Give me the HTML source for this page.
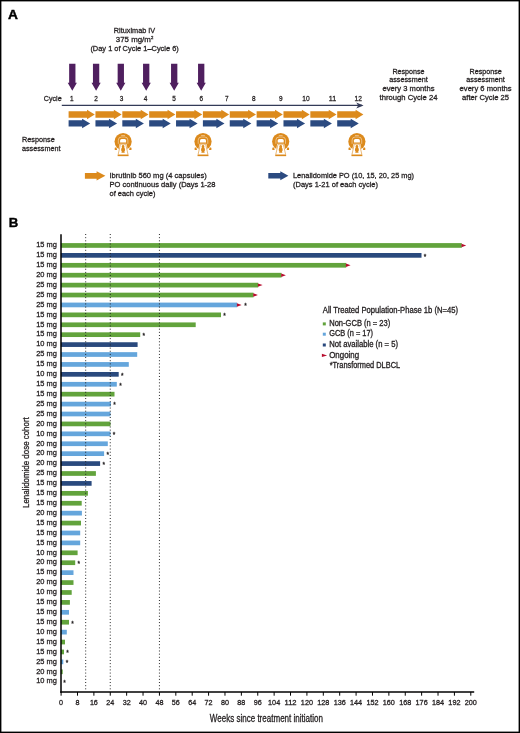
<!DOCTYPE html>
<html><head><meta charset="utf-8"><style>
html,body{margin:0;padding:0;background:#fff;}
body{width:520px;height:733px;overflow:hidden;}
svg{display:block;font-family:"Liberation Sans", sans-serif;will-change:transform;}
text{stroke:#231f20;stroke-width:0.3px;}
</style></head><body>
<svg width="520" height="733" viewBox="0 0 520 733">
<rect x="0" y="0" width="520" height="733" fill="#fff"/>
<text x="8.0" y="19.3" font-size="13.7" text-anchor="start" font-weight="bold" fill="#000" style="stroke:#000;stroke-width:0.45px">A</text>
<text x="134.5" y="33.2" font-size="8.1" text-anchor="middle" font-weight="normal" fill="#231f20" textLength="41.4" lengthAdjust="spacingAndGlyphs">Rituximab IV</text>
<text x="134.5" y="42.2" font-size="8.1" text-anchor="middle" fill="#231f20" textLength="37.5" lengthAdjust="spacingAndGlyphs">375 mg/m<tspan font-size="4.3" dy="-3.0">2</tspan></text>
<text x="134.6" y="50.8" font-size="8.1" text-anchor="middle" font-weight="normal" fill="#231f20" textLength="88.4" lengthAdjust="spacingAndGlyphs">(Day 1 of Cycle 1–Cycle 6)</text>
<path d="M69.14999999999999,63.8 H75.45 V82.7 H76.89999999999999 L72.3,90.8 L67.7,82.7 H69.14999999999999 Z" fill="#4f1f5f"/>
<path d="M92.94999999999999,63.8 H99.25 V82.7 H100.69999999999999 L96.1,90.8 L91.5,82.7 H92.94999999999999 Z" fill="#4f1f5f"/>
<path d="M117.64999999999999,63.8 H123.95 V82.7 H125.39999999999999 L120.8,90.8 L116.2,82.7 H117.64999999999999 Z" fill="#4f1f5f"/>
<path d="M143.04999999999998,63.8 H149.35 V82.7 H150.79999999999998 L146.2,90.8 L141.6,82.7 H143.04999999999998 Z" fill="#4f1f5f"/>
<path d="M171.04999999999998,63.8 H177.35 V82.7 H178.79999999999998 L174.2,90.8 L169.6,82.7 H171.04999999999998 Z" fill="#4f1f5f"/>
<path d="M198.04999999999998,63.8 H204.35 V82.7 H205.79999999999998 L201.2,90.8 L196.6,82.7 H198.04999999999998 Z" fill="#4f1f5f"/>
<text x="43.8" y="100.7" font-size="8.1" text-anchor="start" font-weight="normal" fill="#231f20" textLength="17.8" lengthAdjust="spacingAndGlyphs">Cycle</text>
<text x="71.9" y="100.7" font-size="8.1" text-anchor="middle" font-weight="normal" fill="#231f20" textLength="3.6" lengthAdjust="spacingAndGlyphs">1</text>
<text x="96" y="100.7" font-size="8.1" text-anchor="middle" font-weight="normal" fill="#231f20" textLength="3.6" lengthAdjust="spacingAndGlyphs">2</text>
<text x="121.5" y="100.7" font-size="8.1" text-anchor="middle" font-weight="normal" fill="#231f20" textLength="3.6" lengthAdjust="spacingAndGlyphs">3</text>
<text x="145.5" y="100.7" font-size="8.1" text-anchor="middle" font-weight="normal" fill="#231f20" textLength="3.6" lengthAdjust="spacingAndGlyphs">4</text>
<text x="174" y="100.7" font-size="8.1" text-anchor="middle" font-weight="normal" fill="#231f20" textLength="3.6" lengthAdjust="spacingAndGlyphs">5</text>
<text x="201.2" y="100.7" font-size="8.1" text-anchor="middle" font-weight="normal" fill="#231f20" textLength="3.6" lengthAdjust="spacingAndGlyphs">6</text>
<text x="226.9" y="100.7" font-size="8.1" text-anchor="middle" font-weight="normal" fill="#231f20" textLength="3.6" lengthAdjust="spacingAndGlyphs">7</text>
<text x="253.7" y="100.7" font-size="8.1" text-anchor="middle" font-weight="normal" fill="#231f20" textLength="3.6" lengthAdjust="spacingAndGlyphs">8</text>
<text x="280.8" y="100.7" font-size="8.1" text-anchor="middle" font-weight="normal" fill="#231f20" textLength="3.6" lengthAdjust="spacingAndGlyphs">9</text>
<text x="306" y="100.7" font-size="8.1" text-anchor="middle" font-weight="normal" fill="#231f20" textLength="7.4" lengthAdjust="spacingAndGlyphs">10</text>
<text x="332.5" y="100.7" font-size="8.1" text-anchor="middle" font-weight="normal" fill="#231f20" textLength="7.4" lengthAdjust="spacingAndGlyphs">11</text>
<text x="358.3" y="100.7" font-size="8.1" text-anchor="middle" font-weight="normal" fill="#231f20" textLength="7.4" lengthAdjust="spacingAndGlyphs">12</text>
<line x1="61.8" y1="105.4" x2="362" y2="105.4" stroke="#333b58" stroke-width="1.4"/>
<path d="M356.2,102.5 L363.6,105.4 L356.2,108.4 L358.2,105.4 Z" fill="#333b58"/>
<path d="M68.60,111.3 H87.00 V109.8 L94.80,114.5 L87.00,119.3 V117.8 H68.60 Z" fill="#dc8a1c"/>
<path d="M68.60,120.2 H82.10 V118.8 L90.20,123.4 L82.10,128.2 V126.5 H68.60 Z" fill="#2b4a80"/>
<path d="M95.46,111.3 H113.86 V109.8 L121.66,114.5 L113.86,119.3 V117.8 H95.46 Z" fill="#dc8a1c"/>
<path d="M95.46,120.2 H108.96 V118.8 L117.06,123.4 L108.96,128.2 V126.5 H95.46 Z" fill="#2b4a80"/>
<path d="M122.32,111.3 H140.72 V109.8 L148.52,114.5 L140.72,119.3 V117.8 H122.32 Z" fill="#dc8a1c"/>
<path d="M122.32,120.2 H135.82 V118.8 L143.92,123.4 L135.82,128.2 V126.5 H122.32 Z" fill="#2b4a80"/>
<path d="M149.18,111.3 H167.58 V109.8 L175.38,114.5 L167.58,119.3 V117.8 H149.18 Z" fill="#dc8a1c"/>
<path d="M149.18,120.2 H162.68 V118.8 L170.78,123.4 L162.68,128.2 V126.5 H149.18 Z" fill="#2b4a80"/>
<path d="M176.04,111.3 H194.44 V109.8 L202.24,114.5 L194.44,119.3 V117.8 H176.04 Z" fill="#dc8a1c"/>
<path d="M176.04,120.2 H189.54 V118.8 L197.64,123.4 L189.54,128.2 V126.5 H176.04 Z" fill="#2b4a80"/>
<path d="M202.90,111.3 H221.30 V109.8 L229.10,114.5 L221.30,119.3 V117.8 H202.90 Z" fill="#dc8a1c"/>
<path d="M202.90,120.2 H216.40 V118.8 L224.50,123.4 L216.40,128.2 V126.5 H202.90 Z" fill="#2b4a80"/>
<path d="M229.76,111.3 H248.16 V109.8 L255.96,114.5 L248.16,119.3 V117.8 H229.76 Z" fill="#dc8a1c"/>
<path d="M229.76,120.2 H243.26 V118.8 L251.36,123.4 L243.26,128.2 V126.5 H229.76 Z" fill="#2b4a80"/>
<path d="M256.62,111.3 H275.02 V109.8 L282.82,114.5 L275.02,119.3 V117.8 H256.62 Z" fill="#dc8a1c"/>
<path d="M256.62,120.2 H270.12 V118.8 L278.22,123.4 L270.12,128.2 V126.5 H256.62 Z" fill="#2b4a80"/>
<path d="M283.48,111.3 H301.88 V109.8 L309.68,114.5 L301.88,119.3 V117.8 H283.48 Z" fill="#dc8a1c"/>
<path d="M283.48,120.2 H296.98 V118.8 L305.08,123.4 L296.98,128.2 V126.5 H283.48 Z" fill="#2b4a80"/>
<path d="M310.34,111.3 H328.74 V109.8 L336.54,114.5 L328.74,119.3 V117.8 H310.34 Z" fill="#dc8a1c"/>
<path d="M310.34,120.2 H323.84 V118.8 L331.94,123.4 L323.84,128.2 V126.5 H310.34 Z" fill="#2b4a80"/>
<path d="M337.20,111.3 H355.60 V109.8 L363.40,114.5 L355.60,119.3 V117.8 H337.20 Z" fill="#dc8a1c"/>
<path d="M337.20,120.2 H350.70 V118.8 L358.80,123.4 L350.70,128.2 V126.5 H337.20 Z" fill="#2b4a80"/>
<text x="22" y="141.8" font-size="8.1" text-anchor="start" font-weight="normal" fill="#231f20" textLength="32.7" lengthAdjust="spacingAndGlyphs">Response</text>
<text x="22" y="150.6" font-size="8.1" text-anchor="start" font-weight="normal" fill="#231f20" textLength="38.5" lengthAdjust="spacingAndGlyphs">assessment</text>
<defs><g id="mri"><circle cx="0" cy="0" r="8.6" fill="#dc8a1c"/>
<path d="M-8.4,6.6 Q-8.4,6.0 -7.8,6.0 H-6.6 L-6.0,8.4 H-7.9 Q-8.4,8.4 -8.4,7.9 Z M8.4,6.6 Q8.4,6.0 7.8,6.0 H6.6 L6.0,8.4 H7.9 Q8.4,8.4 8.4,7.9 Z" fill="#dc8a1c"/>
<path d="M-3.4,2.1 L3.4,2.1 L5.8,13.4 L-5.8,13.4 Z" fill="#fff"/>
<path d="M-2.65,2.65 L2.65,2.65 L5.0,13.2 L-5.0,13.2 Z" fill="#fff" stroke="#dc8a1c" stroke-width="0.6"/>
<rect x="-5.45" y="13.3" width="10.9" height="1.25" fill="#dc8a1c"/>
<path d="M-4.8,2.2 V-1.5 Q-4.8,-4.6 -1.6,-4.6 H1.6 Q4.8,-4.6 4.8,-1.5 V2.2" fill="none" stroke="#fff" stroke-width="0.5" opacity="0.9"/>
<path d="M-3.0,1.0 V-1.0 Q-3.0,-2.5 -1.5,-2.5 H1.5 Q3.0,-2.5 3.0,-1.0 V1.0 Z" fill="#fff"/>
<rect x="-1.9" y="-6.4" width="3.8" height="0.5" fill="#fff" opacity="0.85"/>
<g fill="#dc8a1c"><circle cx="0" cy="4.8" r="1.3"/><path d="M-1.0,5.4 L-1.9,7.4 L-1.9,9.0 L-1.3,10.0 L-1.7,11.1 L1.7,11.1 L1.3,10.0 L1.9,9.0 L1.9,7.4 L1.0,5.4 Z"/></g></g></defs>
<use href="#mri" x="123.1" y="141.6"/>
<use href="#mri" x="203" y="141.6"/>
<use href="#mri" x="280.7" y="141.6"/>
<use href="#mri" x="356.9" y="141.6"/>
<text x="408.5" y="73.5" font-size="8.1" text-anchor="middle" font-weight="normal" fill="#231f20" textLength="32.2" lengthAdjust="spacingAndGlyphs">Response</text>
<text x="408.5" y="82.4" font-size="8.1" text-anchor="middle" font-weight="normal" fill="#231f20" textLength="38.5" lengthAdjust="spacingAndGlyphs">assessment</text>
<text x="408.5" y="91.3" font-size="8.1" text-anchor="middle" font-weight="normal" fill="#231f20" textLength="52" lengthAdjust="spacingAndGlyphs">every 3 months</text>
<text x="408.5" y="100.2" font-size="8.1" text-anchor="middle" font-weight="normal" fill="#231f20" textLength="58" lengthAdjust="spacingAndGlyphs">through Cycle 24</text>
<text x="485.6" y="73.5" font-size="8.1" text-anchor="middle" font-weight="normal" fill="#231f20" textLength="32.2" lengthAdjust="spacingAndGlyphs">Response</text>
<text x="485.6" y="82.4" font-size="8.1" text-anchor="middle" font-weight="normal" fill="#231f20" textLength="38.5" lengthAdjust="spacingAndGlyphs">assessment</text>
<text x="485.6" y="91.3" font-size="8.1" text-anchor="middle" font-weight="normal" fill="#231f20" textLength="52" lengthAdjust="spacingAndGlyphs">every 6 months</text>
<text x="485.6" y="100.2" font-size="8.1" text-anchor="middle" font-weight="normal" fill="#231f20" textLength="47" lengthAdjust="spacingAndGlyphs">after Cycle 25</text>
<path d="M84.9,173 H96.6 V171.2 L105.4,175.8 L96.6,180.4 V178.8 H84.9 Z" fill="#dc8a1c"/>
<text x="109.5" y="177.6" font-size="8.1" text-anchor="start" font-weight="normal" fill="#231f20" textLength="97.3" lengthAdjust="spacingAndGlyphs">Ibrutinib 560 mg (4 capsules)</text>
<text x="109.5" y="186.7" font-size="8.1" text-anchor="start" font-weight="normal" fill="#231f20" textLength="106" lengthAdjust="spacingAndGlyphs">PO continuous daily (Days 1-28</text>
<text x="109.5" y="195.6" font-size="8.1" text-anchor="start" font-weight="normal" fill="#231f20" textLength="46" lengthAdjust="spacingAndGlyphs">of each cycle)</text>
<path d="M268.3,172.9 H280.3 V171.3 L288.4,175.7 L280.3,180.2 V178.5 H268.3 Z" fill="#2b4a80"/>
<text x="293" y="178" font-size="8.1" text-anchor="start" font-weight="normal" fill="#231f20" textLength="121" lengthAdjust="spacingAndGlyphs">Lenalidomide PO (10, 15, 20, 25 mg)</text>
<text x="293" y="187" font-size="8.1" text-anchor="start" font-weight="normal" fill="#231f20" textLength="85" lengthAdjust="spacingAndGlyphs">(Days 1-21 of each cycle)</text>
<text x="8.7" y="227.2" font-size="13.2" text-anchor="start" font-weight="bold" fill="#000" style="stroke:#000;stroke-width:0.4px">B</text>
<rect x="60.8" y="243.10" width="401.00" height="4.7" fill="#62a33c"/>
<path d="M461.50,243.75 L466.20,245.45 L461.50,247.15 Z" fill="#b80c2e"/>
<text x="56.9" y="247.2" font-size="8.0" text-anchor="end" font-weight="normal" fill="#231f20" textLength="20.7" lengthAdjust="spacingAndGlyphs">15 mg</text>
<rect x="60.8" y="253.01" width="360.70" height="4.7" fill="#29497d"/>
<text x="425.10" y="258.76" font-size="6.5" text-anchor="middle" fill="#231f20">*</text>
<text x="56.9" y="257.12" font-size="8.0" text-anchor="end" font-weight="normal" fill="#231f20" textLength="20.7" lengthAdjust="spacingAndGlyphs">15 mg</text>
<rect x="60.8" y="262.93" width="285.40" height="4.7" fill="#62a33c"/>
<path d="M345.90,263.58 L350.60,265.28 L345.90,266.98 Z" fill="#b80c2e"/>
<text x="56.9" y="267.03" font-size="8.0" text-anchor="end" font-weight="normal" fill="#231f20" textLength="20.7" lengthAdjust="spacingAndGlyphs">15 mg</text>
<rect x="60.8" y="272.84" width="220.70" height="4.7" fill="#62a33c"/>
<path d="M281.20,273.50 L285.90,275.19 L281.20,276.89 Z" fill="#b80c2e"/>
<text x="56.9" y="276.94" font-size="8.0" text-anchor="end" font-weight="normal" fill="#231f20" textLength="20.7" lengthAdjust="spacingAndGlyphs">20 mg</text>
<rect x="60.8" y="282.76" width="197.40" height="4.7" fill="#62a33c"/>
<path d="M257.90,283.41 L262.60,285.11 L257.90,286.81 Z" fill="#b80c2e"/>
<text x="56.9" y="286.86" font-size="8.0" text-anchor="end" font-weight="normal" fill="#231f20" textLength="20.7" lengthAdjust="spacingAndGlyphs">25 mg</text>
<rect x="60.8" y="292.67" width="192.70" height="4.7" fill="#62a33c"/>
<path d="M253.20,293.32 L257.90,295.02 L253.20,296.72 Z" fill="#b80c2e"/>
<text x="56.9" y="296.77" font-size="8.0" text-anchor="end" font-weight="normal" fill="#231f20" textLength="20.7" lengthAdjust="spacingAndGlyphs">25 mg</text>
<rect x="60.8" y="302.59" width="176.40" height="4.7" fill="#65a6dc"/>
<path d="M236.90,303.24 L241.60,304.94 L236.90,306.64 Z" fill="#b80c2e"/>
<text x="245.40" y="308.34" font-size="6.5" text-anchor="middle" fill="#231f20">*</text>
<text x="56.9" y="306.69" font-size="8.0" text-anchor="end" font-weight="normal" fill="#231f20" textLength="20.7" lengthAdjust="spacingAndGlyphs">25 mg</text>
<rect x="60.8" y="312.50" width="160.20" height="4.7" fill="#62a33c"/>
<text x="224.60" y="318.25" font-size="6.5" text-anchor="middle" fill="#231f20">*</text>
<text x="56.9" y="316.61" font-size="8.0" text-anchor="end" font-weight="normal" fill="#231f20" textLength="20.7" lengthAdjust="spacingAndGlyphs">15 mg</text>
<rect x="60.8" y="322.42" width="134.90" height="4.7" fill="#62a33c"/>
<text x="56.9" y="326.52" font-size="8.0" text-anchor="end" font-weight="normal" fill="#231f20" textLength="20.7" lengthAdjust="spacingAndGlyphs">15 mg</text>
<rect x="60.8" y="332.33" width="79.40" height="4.7" fill="#62a33c"/>
<text x="143.80" y="338.08" font-size="6.5" text-anchor="middle" fill="#231f20">*</text>
<text x="56.9" y="336.43" font-size="8.0" text-anchor="end" font-weight="normal" fill="#231f20" textLength="20.7" lengthAdjust="spacingAndGlyphs">15 mg</text>
<rect x="60.8" y="342.25" width="76.80" height="4.7" fill="#29497d"/>
<text x="56.9" y="346.35" font-size="8.0" text-anchor="end" font-weight="normal" fill="#231f20" textLength="20.7" lengthAdjust="spacingAndGlyphs">10 mg</text>
<rect x="60.8" y="352.16" width="76.40" height="4.7" fill="#65a6dc"/>
<text x="56.9" y="356.26" font-size="8.0" text-anchor="end" font-weight="normal" fill="#231f20" textLength="20.7" lengthAdjust="spacingAndGlyphs">25 mg</text>
<rect x="60.8" y="362.08" width="68.00" height="4.7" fill="#65a6dc"/>
<text x="56.9" y="366.18" font-size="8.0" text-anchor="end" font-weight="normal" fill="#231f20" textLength="20.7" lengthAdjust="spacingAndGlyphs">15 mg</text>
<rect x="60.8" y="371.99" width="57.90" height="4.7" fill="#29497d"/>
<text x="122.30" y="377.74" font-size="6.5" text-anchor="middle" fill="#231f20">*</text>
<text x="56.9" y="376.09" font-size="8.0" text-anchor="end" font-weight="normal" fill="#231f20" textLength="20.7" lengthAdjust="spacingAndGlyphs">10 mg</text>
<rect x="60.8" y="381.91" width="56.00" height="4.7" fill="#65a6dc"/>
<text x="120.40" y="387.66" font-size="6.5" text-anchor="middle" fill="#231f20">*</text>
<text x="56.9" y="386.01" font-size="8.0" text-anchor="end" font-weight="normal" fill="#231f20" textLength="20.7" lengthAdjust="spacingAndGlyphs">15 mg</text>
<rect x="60.8" y="391.82" width="53.70" height="4.7" fill="#62a33c"/>
<text x="56.9" y="395.92" font-size="8.0" text-anchor="end" font-weight="normal" fill="#231f20" textLength="20.7" lengthAdjust="spacingAndGlyphs">15 mg</text>
<rect x="60.8" y="401.74" width="50.10" height="4.7" fill="#65a6dc"/>
<text x="114.50" y="407.49" font-size="6.5" text-anchor="middle" fill="#231f20">*</text>
<text x="56.9" y="405.84" font-size="8.0" text-anchor="end" font-weight="normal" fill="#231f20" textLength="20.7" lengthAdjust="spacingAndGlyphs">25 mg</text>
<rect x="60.8" y="411.65" width="49.70" height="4.7" fill="#65a6dc"/>
<text x="56.9" y="415.75" font-size="8.0" text-anchor="end" font-weight="normal" fill="#231f20" textLength="20.7" lengthAdjust="spacingAndGlyphs">25 mg</text>
<rect x="60.8" y="421.57" width="49.70" height="4.7" fill="#62a33c"/>
<text x="56.9" y="425.67" font-size="8.0" text-anchor="end" font-weight="normal" fill="#231f20" textLength="20.7" lengthAdjust="spacingAndGlyphs">20 mg</text>
<rect x="60.8" y="431.48" width="49.70" height="4.7" fill="#65a6dc"/>
<text x="114.10" y="437.23" font-size="6.5" text-anchor="middle" fill="#231f20">*</text>
<text x="56.9" y="435.58" font-size="8.0" text-anchor="end" font-weight="normal" fill="#231f20" textLength="20.7" lengthAdjust="spacingAndGlyphs">10 mg</text>
<rect x="60.8" y="441.40" width="47.00" height="4.7" fill="#65a6dc"/>
<text x="56.9" y="445.5" font-size="8.0" text-anchor="end" font-weight="normal" fill="#231f20" textLength="20.7" lengthAdjust="spacingAndGlyphs">20 mg</text>
<rect x="60.8" y="451.31" width="43.30" height="4.7" fill="#65a6dc"/>
<text x="107.70" y="457.06" font-size="6.5" text-anchor="middle" fill="#231f20">*</text>
<text x="56.9" y="455.41" font-size="8.0" text-anchor="end" font-weight="normal" fill="#231f20" textLength="20.7" lengthAdjust="spacingAndGlyphs">20 mg</text>
<rect x="60.8" y="461.23" width="39.30" height="4.7" fill="#29497d"/>
<text x="103.70" y="466.98" font-size="6.5" text-anchor="middle" fill="#231f20">*</text>
<text x="56.9" y="465.33" font-size="8.0" text-anchor="end" font-weight="normal" fill="#231f20" textLength="20.7" lengthAdjust="spacingAndGlyphs">20 mg</text>
<rect x="60.8" y="471.14" width="35.10" height="4.7" fill="#62a33c"/>
<text x="56.9" y="475.25" font-size="8.0" text-anchor="end" font-weight="normal" fill="#231f20" textLength="20.7" lengthAdjust="spacingAndGlyphs">25 mg</text>
<rect x="60.8" y="481.06" width="30.80" height="4.7" fill="#29497d"/>
<text x="56.9" y="485.16" font-size="8.0" text-anchor="end" font-weight="normal" fill="#231f20" textLength="20.7" lengthAdjust="spacingAndGlyphs">15 mg</text>
<rect x="60.8" y="490.97" width="27.10" height="4.7" fill="#62a33c"/>
<text x="56.9" y="495.07" font-size="8.0" text-anchor="end" font-weight="normal" fill="#231f20" textLength="20.7" lengthAdjust="spacingAndGlyphs">15 mg</text>
<rect x="60.8" y="500.89" width="20.90" height="4.7" fill="#62a33c"/>
<text x="56.9" y="504.99" font-size="8.0" text-anchor="end" font-weight="normal" fill="#231f20" textLength="20.7" lengthAdjust="spacingAndGlyphs">15 mg</text>
<rect x="60.8" y="510.80" width="21.10" height="4.7" fill="#65a6dc"/>
<text x="56.9" y="514.9" font-size="8.0" text-anchor="end" font-weight="normal" fill="#231f20" textLength="20.7" lengthAdjust="spacingAndGlyphs">20 mg</text>
<rect x="60.8" y="520.72" width="20.20" height="4.7" fill="#62a33c"/>
<text x="56.9" y="524.82" font-size="8.0" text-anchor="end" font-weight="normal" fill="#231f20" textLength="20.7" lengthAdjust="spacingAndGlyphs">15 mg</text>
<rect x="60.8" y="530.63" width="19.40" height="4.7" fill="#65a6dc"/>
<text x="56.9" y="534.73" font-size="8.0" text-anchor="end" font-weight="normal" fill="#231f20" textLength="20.7" lengthAdjust="spacingAndGlyphs">15 mg</text>
<rect x="60.8" y="540.55" width="19.40" height="4.7" fill="#65a6dc"/>
<text x="56.9" y="544.65" font-size="8.0" text-anchor="end" font-weight="normal" fill="#231f20" textLength="20.7" lengthAdjust="spacingAndGlyphs">15 mg</text>
<rect x="60.8" y="550.46" width="16.80" height="4.7" fill="#62a33c"/>
<text x="56.9" y="554.56" font-size="8.0" text-anchor="end" font-weight="normal" fill="#231f20" textLength="20.7" lengthAdjust="spacingAndGlyphs">10 mg</text>
<rect x="60.8" y="560.38" width="14.40" height="4.7" fill="#62a33c"/>
<text x="78.80" y="566.13" font-size="6.5" text-anchor="middle" fill="#231f20">*</text>
<text x="56.9" y="564.48" font-size="8.0" text-anchor="end" font-weight="normal" fill="#231f20" textLength="20.7" lengthAdjust="spacingAndGlyphs">20 mg</text>
<rect x="60.8" y="570.29" width="12.70" height="4.7" fill="#65a6dc"/>
<text x="56.9" y="574.39" font-size="8.0" text-anchor="end" font-weight="normal" fill="#231f20" textLength="20.7" lengthAdjust="spacingAndGlyphs">15 mg</text>
<rect x="60.8" y="580.21" width="12.70" height="4.7" fill="#62a33c"/>
<text x="56.9" y="584.31" font-size="8.0" text-anchor="end" font-weight="normal" fill="#231f20" textLength="20.7" lengthAdjust="spacingAndGlyphs">20 mg</text>
<rect x="60.8" y="590.12" width="10.90" height="4.7" fill="#62a33c"/>
<text x="56.9" y="594.22" font-size="8.0" text-anchor="end" font-weight="normal" fill="#231f20" textLength="20.7" lengthAdjust="spacingAndGlyphs">10 mg</text>
<rect x="60.8" y="600.04" width="9.10" height="4.7" fill="#62a33c"/>
<text x="56.9" y="604.14" font-size="8.0" text-anchor="end" font-weight="normal" fill="#231f20" textLength="20.7" lengthAdjust="spacingAndGlyphs">15 mg</text>
<rect x="60.8" y="609.95" width="8.20" height="4.7" fill="#65a6dc"/>
<text x="56.9" y="614.05" font-size="8.0" text-anchor="end" font-weight="normal" fill="#231f20" textLength="20.7" lengthAdjust="spacingAndGlyphs">15 mg</text>
<rect x="60.8" y="619.87" width="8.20" height="4.7" fill="#62a33c"/>
<text x="72.60" y="625.62" font-size="6.5" text-anchor="middle" fill="#231f20">*</text>
<text x="56.9" y="623.97" font-size="8.0" text-anchor="end" font-weight="normal" fill="#231f20" textLength="20.7" lengthAdjust="spacingAndGlyphs">15 mg</text>
<rect x="60.8" y="629.78" width="6.00" height="4.7" fill="#65a6dc"/>
<text x="56.9" y="633.88" font-size="8.0" text-anchor="end" font-weight="normal" fill="#231f20" textLength="20.7" lengthAdjust="spacingAndGlyphs">10 mg</text>
<rect x="60.8" y="639.70" width="4.20" height="4.7" fill="#62a33c"/>
<text x="56.9" y="643.8" font-size="8.0" text-anchor="end" font-weight="normal" fill="#231f20" textLength="20.7" lengthAdjust="spacingAndGlyphs">15 mg</text>
<rect x="60.8" y="649.61" width="3.20" height="4.7" fill="#62a33c"/>
<text x="67.60" y="655.36" font-size="6.5" text-anchor="middle" fill="#231f20">*</text>
<text x="56.9" y="653.71" font-size="8.0" text-anchor="end" font-weight="normal" fill="#231f20" textLength="20.7" lengthAdjust="spacingAndGlyphs">15 mg</text>
<rect x="60.8" y="659.53" width="2.50" height="4.7" fill="#65a6dc"/>
<text x="66.90" y="665.28" font-size="6.5" text-anchor="middle" fill="#231f20">*</text>
<text x="56.9" y="663.63" font-size="8.0" text-anchor="end" font-weight="normal" fill="#231f20" textLength="20.7" lengthAdjust="spacingAndGlyphs">25 mg</text>
<rect x="60.8" y="669.44" width="1.90" height="4.7" fill="#62a33c"/>
<text x="56.9" y="673.54" font-size="8.0" text-anchor="end" font-weight="normal" fill="#231f20" textLength="20.7" lengthAdjust="spacingAndGlyphs">20 mg</text>
<text x="64.60" y="685.11" font-size="6.5" text-anchor="middle" fill="#231f20">*</text>
<text x="56.9" y="683.46" font-size="8.0" text-anchor="end" font-weight="normal" fill="#231f20" textLength="20.7" lengthAdjust="spacingAndGlyphs">10 mg</text>
<line x1="85.68" y1="234.05" x2="85.68" y2="690.6" stroke="#1e1e1e" stroke-width="1.0" stroke-dasharray="0.95 2.205"/>
<line x1="110.26" y1="234.05" x2="110.26" y2="690.6" stroke="#1e1e1e" stroke-width="1.0" stroke-dasharray="0.95 2.205"/>
<line x1="159.43" y1="234.05" x2="159.43" y2="690.6" stroke="#1e1e1e" stroke-width="1.0" stroke-dasharray="0.95 2.205"/>
<line x1="61.0" y1="234.2" x2="61.0" y2="692.8" stroke="#000" stroke-width="1.5"/>
<line x1="60.25" y1="692.05" x2="474.2" y2="692.05" stroke="#000" stroke-width="1.6"/>
<line x1="61.10" y1="692" x2="61.10" y2="695.7" stroke="#000" stroke-width="1.0"/>
<text x="61.1" y="705.1" font-size="7.6" text-anchor="middle" font-weight="normal" fill="#231f20" textLength="4.0" lengthAdjust="spacingAndGlyphs">0</text>
<line x1="77.49" y1="692" x2="77.49" y2="695.7" stroke="#000" stroke-width="1.0"/>
<text x="77.49" y="705.1" font-size="7.6" text-anchor="middle" font-weight="normal" fill="#231f20" textLength="4.0" lengthAdjust="spacingAndGlyphs">8</text>
<line x1="93.88" y1="692" x2="93.88" y2="695.7" stroke="#000" stroke-width="1.0"/>
<text x="93.88" y="705.1" font-size="7.6" text-anchor="middle" font-weight="normal" fill="#231f20" textLength="8.0" lengthAdjust="spacingAndGlyphs">16</text>
<line x1="110.26" y1="692" x2="110.26" y2="695.7" stroke="#000" stroke-width="1.0"/>
<text x="110.26" y="705.1" font-size="7.6" text-anchor="middle" font-weight="normal" fill="#231f20" textLength="8.0" lengthAdjust="spacingAndGlyphs">24</text>
<line x1="126.65" y1="692" x2="126.65" y2="695.7" stroke="#000" stroke-width="1.0"/>
<text x="126.65" y="705.1" font-size="7.6" text-anchor="middle" font-weight="normal" fill="#231f20" textLength="8.0" lengthAdjust="spacingAndGlyphs">32</text>
<line x1="143.04" y1="692" x2="143.04" y2="695.7" stroke="#000" stroke-width="1.0"/>
<text x="143.04" y="705.1" font-size="7.6" text-anchor="middle" font-weight="normal" fill="#231f20" textLength="8.0" lengthAdjust="spacingAndGlyphs">40</text>
<line x1="159.43" y1="692" x2="159.43" y2="695.7" stroke="#000" stroke-width="1.0"/>
<text x="159.43" y="705.1" font-size="7.6" text-anchor="middle" font-weight="normal" fill="#231f20" textLength="8.0" lengthAdjust="spacingAndGlyphs">48</text>
<line x1="175.82" y1="692" x2="175.82" y2="695.7" stroke="#000" stroke-width="1.0"/>
<text x="175.82" y="705.1" font-size="7.6" text-anchor="middle" font-weight="normal" fill="#231f20" textLength="8.0" lengthAdjust="spacingAndGlyphs">56</text>
<line x1="192.20" y1="692" x2="192.20" y2="695.7" stroke="#000" stroke-width="1.0"/>
<text x="192.2" y="705.1" font-size="7.6" text-anchor="middle" font-weight="normal" fill="#231f20" textLength="8.0" lengthAdjust="spacingAndGlyphs">64</text>
<line x1="208.59" y1="692" x2="208.59" y2="695.7" stroke="#000" stroke-width="1.0"/>
<text x="208.59" y="705.1" font-size="7.6" text-anchor="middle" font-weight="normal" fill="#231f20" textLength="8.0" lengthAdjust="spacingAndGlyphs">72</text>
<line x1="224.98" y1="692" x2="224.98" y2="695.7" stroke="#000" stroke-width="1.0"/>
<text x="224.98" y="705.1" font-size="7.6" text-anchor="middle" font-weight="normal" fill="#231f20" textLength="8.0" lengthAdjust="spacingAndGlyphs">80</text>
<line x1="241.37" y1="692" x2="241.37" y2="695.7" stroke="#000" stroke-width="1.0"/>
<text x="241.37" y="705.1" font-size="7.6" text-anchor="middle" font-weight="normal" fill="#231f20" textLength="8.0" lengthAdjust="spacingAndGlyphs">88</text>
<line x1="257.76" y1="692" x2="257.76" y2="695.7" stroke="#000" stroke-width="1.0"/>
<text x="257.76" y="705.1" font-size="7.6" text-anchor="middle" font-weight="normal" fill="#231f20" textLength="8.0" lengthAdjust="spacingAndGlyphs">96</text>
<line x1="274.14" y1="692" x2="274.14" y2="695.7" stroke="#000" stroke-width="1.0"/>
<text x="274.14" y="705.1" font-size="7.6" text-anchor="middle" font-weight="normal" fill="#231f20" textLength="12.1" lengthAdjust="spacingAndGlyphs">104</text>
<line x1="290.53" y1="692" x2="290.53" y2="695.7" stroke="#000" stroke-width="1.0"/>
<text x="290.53" y="705.1" font-size="7.6" text-anchor="middle" font-weight="normal" fill="#231f20" textLength="12.1" lengthAdjust="spacingAndGlyphs">112</text>
<line x1="306.92" y1="692" x2="306.92" y2="695.7" stroke="#000" stroke-width="1.0"/>
<text x="306.92" y="705.1" font-size="7.6" text-anchor="middle" font-weight="normal" fill="#231f20" textLength="12.1" lengthAdjust="spacingAndGlyphs">120</text>
<line x1="323.31" y1="692" x2="323.31" y2="695.7" stroke="#000" stroke-width="1.0"/>
<text x="323.31" y="705.1" font-size="7.6" text-anchor="middle" font-weight="normal" fill="#231f20" textLength="12.1" lengthAdjust="spacingAndGlyphs">128</text>
<line x1="339.70" y1="692" x2="339.70" y2="695.7" stroke="#000" stroke-width="1.0"/>
<text x="339.7" y="705.1" font-size="7.6" text-anchor="middle" font-weight="normal" fill="#231f20" textLength="12.1" lengthAdjust="spacingAndGlyphs">136</text>
<line x1="356.08" y1="692" x2="356.08" y2="695.7" stroke="#000" stroke-width="1.0"/>
<text x="356.08" y="705.1" font-size="7.6" text-anchor="middle" font-weight="normal" fill="#231f20" textLength="12.1" lengthAdjust="spacingAndGlyphs">144</text>
<line x1="372.47" y1="692" x2="372.47" y2="695.7" stroke="#000" stroke-width="1.0"/>
<text x="372.47" y="705.1" font-size="7.6" text-anchor="middle" font-weight="normal" fill="#231f20" textLength="12.1" lengthAdjust="spacingAndGlyphs">152</text>
<line x1="388.86" y1="692" x2="388.86" y2="695.7" stroke="#000" stroke-width="1.0"/>
<text x="388.86" y="705.1" font-size="7.6" text-anchor="middle" font-weight="normal" fill="#231f20" textLength="12.1" lengthAdjust="spacingAndGlyphs">160</text>
<line x1="405.25" y1="692" x2="405.25" y2="695.7" stroke="#000" stroke-width="1.0"/>
<text x="405.25" y="705.1" font-size="7.6" text-anchor="middle" font-weight="normal" fill="#231f20" textLength="12.1" lengthAdjust="spacingAndGlyphs">168</text>
<line x1="421.64" y1="692" x2="421.64" y2="695.7" stroke="#000" stroke-width="1.0"/>
<text x="421.64" y="705.1" font-size="7.6" text-anchor="middle" font-weight="normal" fill="#231f20" textLength="12.1" lengthAdjust="spacingAndGlyphs">176</text>
<line x1="438.02" y1="692" x2="438.02" y2="695.7" stroke="#000" stroke-width="1.0"/>
<text x="438.02" y="705.1" font-size="7.6" text-anchor="middle" font-weight="normal" fill="#231f20" textLength="12.1" lengthAdjust="spacingAndGlyphs">184</text>
<line x1="454.41" y1="692" x2="454.41" y2="695.7" stroke="#000" stroke-width="1.0"/>
<text x="454.41" y="705.1" font-size="7.6" text-anchor="middle" font-weight="normal" fill="#231f20" textLength="12.1" lengthAdjust="spacingAndGlyphs">192</text>
<line x1="470.80" y1="692" x2="470.80" y2="695.7" stroke="#000" stroke-width="1.0"/>
<text x="470.8" y="705.1" font-size="7.6" text-anchor="middle" font-weight="normal" fill="#231f20" textLength="12.1" lengthAdjust="spacingAndGlyphs">200</text>
<text x="209.8" y="722" font-size="10.2" text-anchor="start" font-weight="normal" fill="#231f20" textLength="113.2" lengthAdjust="spacingAndGlyphs">Weeks since treatment initiation</text>
<text transform="translate(29.2,462.6) rotate(-90)" x="0" y="0" font-size="9.8" text-anchor="middle" fill="#231f20" textLength="90.7" lengthAdjust="spacingAndGlyphs">Lenalidomide dose cohort</text>
<text x="322.8" y="313" font-size="8.15" text-anchor="start" font-weight="normal" fill="#231f20" textLength="135.2" lengthAdjust="spacingAndGlyphs">All Treated Population-Phase 1b (N=45)</text>
<rect x="322.8" y="322.40" width="3.0" height="3.0" fill="#62a33c"/>
<text x="329.2" y="326" font-size="8.15" text-anchor="start" font-weight="normal" fill="#231f20" textLength="61.1" lengthAdjust="spacingAndGlyphs">Non-GCB (n = 23)</text>
<rect x="322.8" y="332.70" width="3.0" height="3.0" fill="#65a6dc"/>
<text x="329.2" y="336.3" font-size="8.15" text-anchor="start" font-weight="normal" fill="#231f20" textLength="43.8" lengthAdjust="spacingAndGlyphs">GCB (n = 17)</text>
<rect x="322.8" y="343.50" width="3.0" height="3.0" fill="#29497d"/>
<text x="329.2" y="347.1" font-size="8.15" text-anchor="start" font-weight="normal" fill="#231f20" textLength="68.8" lengthAdjust="spacingAndGlyphs">Not available (n = 5)</text>
<path d="M321.9,353.7 L327.1,355.4 L321.9,357.1 Z" fill="#b80c2e"/>
<text x="329.2" y="357.8" font-size="8.15" text-anchor="start" font-weight="normal" fill="#231f20" textLength="29.9" lengthAdjust="spacingAndGlyphs">Ongoing</text>
<text x="329.7" y="368.2" font-size="8.15" text-anchor="start" font-weight="normal" fill="#231f20" textLength="70.4" lengthAdjust="spacingAndGlyphs">*Transformed DLBCL</text>
<rect x="0.7" y="0.7" width="518.6" height="731.6" fill="none" stroke="#000" stroke-width="1.4"/>
</svg>
</body></html>
